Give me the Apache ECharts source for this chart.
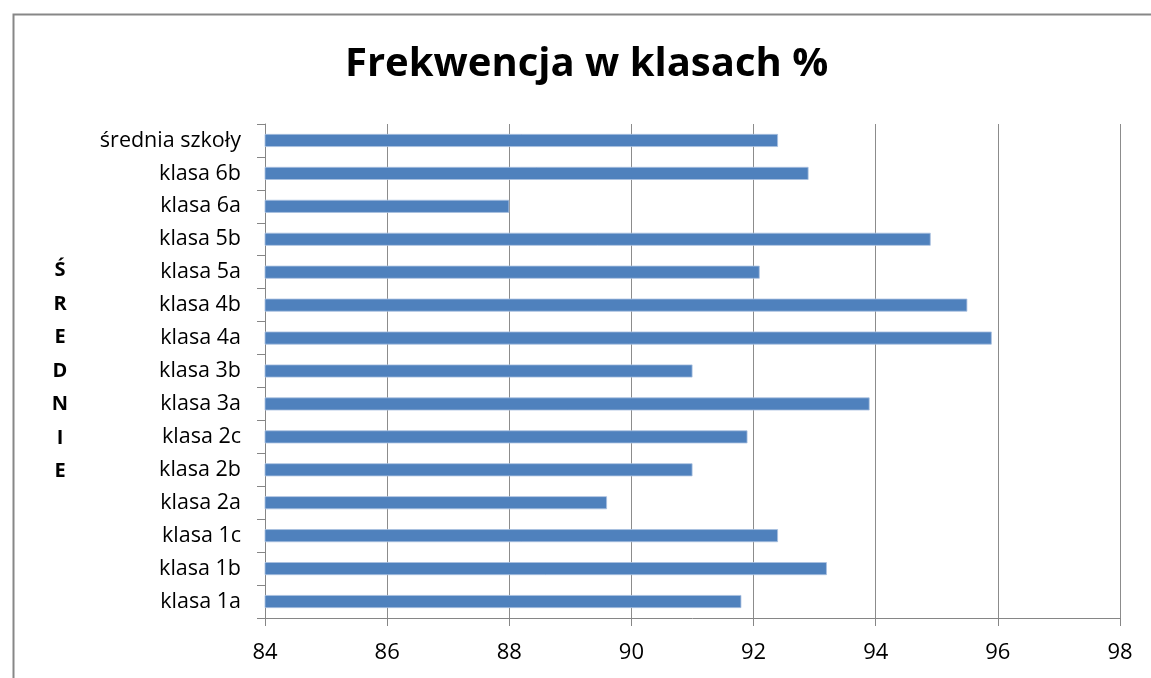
<!DOCTYPE html>
<html>
<head>
<meta charset="utf-8">
<script src="https://cdn.jsdelivr.net/npm/echarts@6/dist/echarts.min.js"></script>
<style>html,body{margin:0;padding:0;background:#fff;}#c{width:1151px;height:678px;}</style>
</head>
<body>
<div id="c"></div>
<script>
const categories = ['klasa 1a','klasa 1b','klasa 1c','klasa 2a','klasa 2b','klasa 2c','klasa 3a','klasa 3b','klasa 4a','klasa 4b','klasa 5a','klasa 5b','klasa 6a','klasa 6b','średnia szkoły'];
const values = [91.8, 93.2, 92.4, 89.6, 91.0, 91.9, 93.9, 91.0, 95.9, 95.5, 92.1, 94.9, 88.0, 92.9, 92.4];
const titleText = 'Frekwencja w klasach %';
const axisName = 'ŚREDNIE';
const xMin = 84, xMax = 98, xStep = 2;

const chart = echarts.init(document.getElementById('c'), null, {renderer: 'canvas'});
const font = '"Open Sans", "Noto Sans", sans-serif';
chart.setOption({
  backgroundColor: '#ffffff',
  animation: false,
  graphic: [{
    type: 'rect', left: 11, top: 12, silent: true,
    shape: {width: 1200, height: 720},
    style: {fill: 'none', stroke: '#878787', lineWidth: 2}
  }],
  title: {
    text: titleText, left: 340, top: 40,
    textStyle: {fontFamily: font, fontWeight: 'bold', fontSize: 40, color: '#000'}
  },
  grid: {left: 265, right: 31, top: 124, bottom: 60, containLabel: false},
  xAxis: {
    type: 'value', min: xMin, max: xMax, interval: xStep,
    axisLine: {show: true, lineStyle: {color: '#868686', width: 1}},
    axisTick: {show: true, length: 8, lineStyle: {color: '#868686'}},
    splitLine: {show: true, lineStyle: {color: '#8c8c8c', width: 1}},
    axisLabel: {fontFamily: font, fontSize: 22, color: '#000', margin: 24}
  },
  yAxis: {
    type: 'category', data: categories,
    name: axisName.split('').join('\n'),
    nameLocation: 'middle', nameRotate: 0, nameGap: 205,
    nameTextStyle: {fontFamily: font, fontWeight: 'bold', fontSize: 20, color: '#000', lineHeight: 33.5, align: 'center', verticalAlign: 'middle'},
    axisLine: {show: true, lineStyle: {color: '#868686', width: 1}},
    axisTick: {show: true, length: 8, lineStyle: {color: '#868686'}},
    axisLabel: {fontFamily: font, fontSize: 21.5, color: '#000', margin: 24}
  },
  series: [{
    type: 'bar', data: values, barWidth: 13,
    itemStyle: {color: '#4F81BD', borderColor: '#a9c0df', borderWidth: 0.8}
  }]
});
</script>
</body>
</html>
